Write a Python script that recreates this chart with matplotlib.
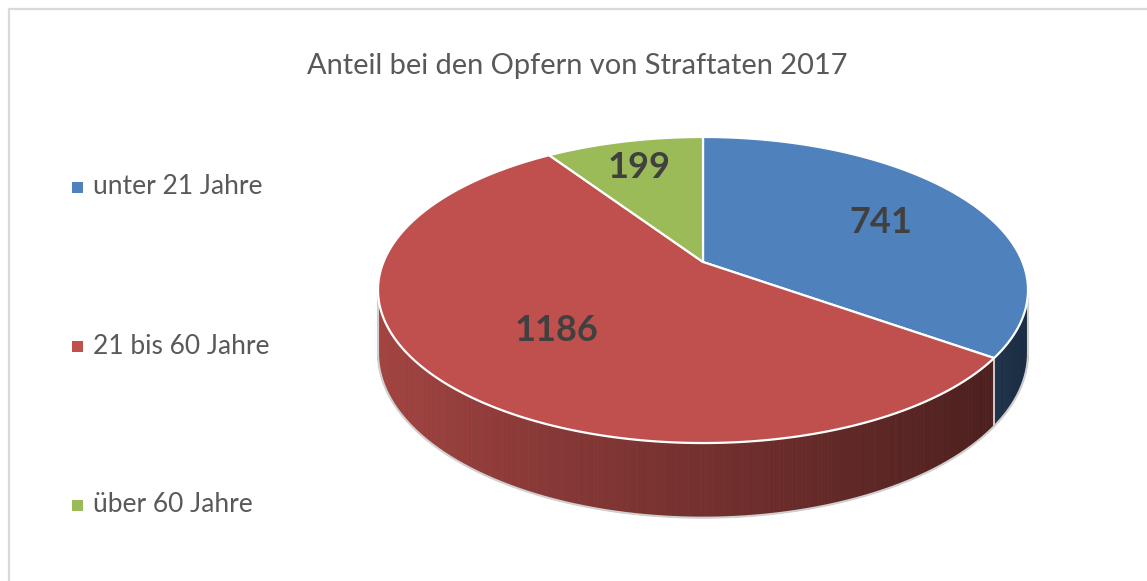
import numpy as np
import matplotlib
matplotlib.use("Agg")
import matplotlib.pyplot as plt
from matplotlib.patches import Polygon, Rectangle
from matplotlib.colors import to_rgb

# ---- data ----
title = "Anteil bei den Opfern von Straftaten 2017"
categories = ["unter 21 Jahre", "21 bis 60 Jahre", "über 60 Jahre"]
values = [741, 1186, 199]
colors = ["#4F81BD", "#C0504D", "#9BBB59"]

# ---- figure ----
W, H = 1147, 581
fig = plt.figure(figsize=(W / 100, H / 100), dpi=100)
ax = fig.add_axes([0, 0, 1, 1])
ax.set_xlim(0, W)
ax.set_ylim(H, 0)
ax.axis("off")
renderer = fig.canvas.get_renderer()

def fit_text(x, y, s, target_w, **kw):
    t = ax.text(x, y, s, fontsize=20, **kw)
    w = t.get_window_extent(renderer).width
    t.set_fontsize(20 * target_w / w)
    return t

# chart border (top and left visible)
ax.plot([8.5, 8.5, W], [H, 9, 9], color="#D9D9D9", lw=1.6, solid_capstyle="butt")

# title
fit_text(577, 66, title, 542, ha="center", va="center", color="#595959",
         family=["Lato", "DejaVu Sans"])

# ---- 3D pie geometry (perspective) ----
cx, cy = 703.0, 262.0
A, B = 319.5, 147.9
k = 0.183
depth = 61.0

def proj(theta_deg, r=1.0, d=0.0):
    t = np.radians(theta_deg)
    x = r * np.sin(t)
    z = r * np.cos(t)
    w = 1 + k * z
    return cx + A * x / w, cy + (-B * z + depth * d) / w

def shade(c, theta_deg):
    f = 0.60 - 0.26 * np.sin(np.radians(theta_deg))
    return tuple(np.clip(np.array(to_rgb(c)) * f, 0, 1))

total = float(sum(values))
angles = np.cumsum([0] + [v / total * 360 for v in values])

vis0 = np.degrees(np.arccos(-k))
vis1 = 360 - vis0

# walls
for i, c in enumerate(colors):
    a0, a1 = max(angles[i], vis0), min(angles[i + 1], vis1)
    if a1 <= a0:
        continue
    n = max(2, int((a1 - a0) / 0.5))
    ts = np.linspace(a0, a1, n + 1)
    for t0, t1 in zip(ts[:-1], ts[1:]):
        p = [proj(t0), proj(t1), proj(t1, d=1), proj(t0, d=1)]
        col = shade(c, (t0 + t1) / 2)
        ax.add_patch(Polygon(p, closed=True, facecolor=col, edgecolor=col,
                             lw=0.6, zorder=2))
    if vis0 < angles[i + 1] < vis1:
        xa, ya = proj(angles[i + 1])
        xb, yb = proj(angles[i + 1], d=1)
        ax.plot([xa, xb], [ya, yb], color="#E8E8E8", lw=1.2, zorder=3)

# wall bottom outline and silhouette
tb = np.linspace(vis0, vis1, 300)
bx, by = zip(*[proj(t, d=1) for t in tb])
ax.plot(bx, by, color="#D0D0D0", lw=1.5, zorder=3)
for t in (vis0, vis1):
    xa, ya = proj(t)
    xb, yb = proj(t, d=1)
    ax.plot([xa, xb], [ya, yb], color="#D0D0D0", lw=1.5, zorder=3)

# top face
for i, c in enumerate(colors):
    ts = np.linspace(angles[i], angles[i + 1], 300)
    pts = [(cx, cy)] + [proj(t) for t in ts]
    ax.add_patch(Polygon(pts, closed=True, facecolor=c, edgecolor="white",
                         lw=1.6, joinstyle="round", zorder=4))

# data labels
label_r = [0.66, 0.59, 0.78]
for i, v in enumerate(values):
    mid = (angles[i] + angles[i + 1]) / 2
    lx, ly = proj(mid, label_r[i])
    ax.text(lx, ly + 3, str(v), ha="center", va="center", fontsize=26,
            fontweight="bold", color="#404040", family=["Lato", "DejaVu Sans"],
            zorder=6)

# legend
leg_y = [187, 346, 505]
lsize = None
for c, lab, y in zip(colors, categories, leg_y):
    ax.add_patch(Rectangle((72, y - 5.5), 11, 11, facecolor=c, edgecolor="none"))
    if lsize is None:
        t = fit_text(93, y, lab, 170, ha="left", va="center", color="#595959",
                     family=["Lato", "DejaVu Sans"])
        lsize = t.get_fontsize()
    else:
        ax.text(93, y, lab, ha="left", va="center", fontsize=lsize,
                color="#595959", family=["Lato", "DejaVu Sans"])

fig.savefig("out.png", dpi=100)
